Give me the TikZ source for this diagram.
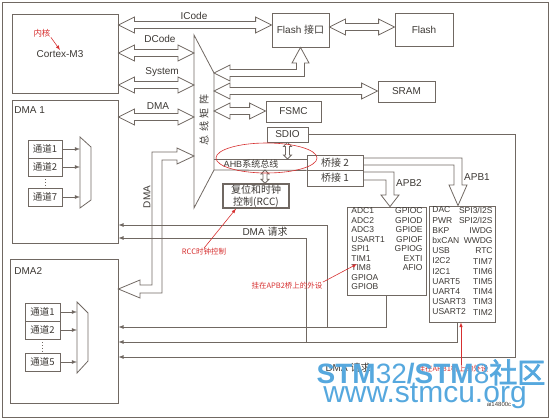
\documentclass[tikz,border=0pt]{standalone}
\usepackage{fontspec}
\setmainfont{Liberation Sans}
\newfontfamily\cjk{Noto Sans CJK SC}
\newfontfamily\cjkb[FakeBold=2.5]{Noto Sans CJK SC}
\usepackage{tikz}
\usetikzlibrary{arrows,calc}
\definecolor{linecol}{RGB}{112,104,98}
\definecolor{txtcol}{RGB}{60,56,52}
\definecolor{redcol}{RGB}{214,48,48}
\definecolor{wmcol}{RGB}{86,168,222}

% hollow double arrow, horizontal
\newcommand\hbus[2]{%
  \draw[bus] let \p1=(#1), \p2=(#2) in (\x1,\y1) -- ++(16pt,8pt) -- ++(0pt,-4.5pt)
    -- (\x2-16pt,\y1+3.5pt) -- ++(0pt,4.5pt) -- (\x2,\y1) -- ++(-16pt,-8pt) -- ++(0pt,4.5pt)
    -- (\x1+16pt,\y1-3.5pt) -- ++(0pt,-4.5pt) -- cycle;}
% small hollow double arrow, vertical (top point first)
\newcommand\vbus[2]{%
  \draw[bus] let \p1=(#1), \p2=(#2) in (\x1,\y1) -- ++(4pt,-4pt) -- ++(-2pt,0pt)
    -- (\x1+2pt,\y2+4pt) -- ++(2pt,0pt) -- (\x2,\y2) -- ++(-4pt,4pt) -- ++(2pt,0pt)
    -- (\x1-2pt,\y1-4pt) -- ++(-2pt,0pt) -- cycle;}

\begin{document}
\begin{tikzpicture}[x=1pt, y=-1pt, line width=.8pt,
    box/.style={draw=linecol, text=txtcol, inner sep=0pt, font=\fontsize{10}{12}\selectfont},
    chbox/.style={box, minimum width=34pt, minimum height=18pt, font=\cjk\fontsize{9.5}{11}\selectfont},
    lbl/.style={text=txtcol, inner sep=0pt, font=\fontsize{10}{12}\selectfont},
    list/.style={text=txtcol, inner sep=0pt, font=\fontsize{8.5}{9.5}\selectfont},
    note/.style={text=redcol, inner sep=0pt, font=\cjk\fontsize{7.5}{9}\selectfont},
    bus/.style={draw=linecol},
    req/.style={draw=linecol, -latex},
    redarr/.style={draw=redcol, line width=.6pt, -latex}]
\useasboundingbox (0,0) rectangle (552,420);
\draw[linecol] (2,2) rectangle (548,417);

% cpu and dma blocks
\node[box, minimum width=106pt, minimum height=79pt] (cortex) at (65,53.5) {};
\node[lbl] (cortexlbl) at (60,54) {Cortex-M3};
\node[note, font=\cjk\fontsize{8.5}{10}\selectfont] (innote) at (42,33) {内核};
\draw[redarr] (innote.south east) -- (cortexlbl.north);

\node[box, minimum width=106pt, minimum height=143pt] (dma1) at (65,171.5) {};
\node[lbl, anchor=west] at (14,110) {DMA 1};
\node[chbox] (ch11) at (45,149) {通道1};
\node[chbox] (ch12) at (45,167) {通道2};
\node[chbox] (ch17) at (45,197) {通道7};
\draw[linecol, dotted] (ch12.south) -- (ch17.north);
\draw[linecol] (80,137) -- (91,147) -- (91,200) -- (80,208) -- cycle;
\foreach \c in {ch11,ch12,ch17}
  \draw[req] (\c.east) -- (\c.east -| 80,0);

\node[box, minimum width=108pt, minimum height=144pt] (dma2) at (64,331) {};
\node[lbl, anchor=west] at (14,271) {DMA2};
\node[chbox, minimum width=35pt] (ch21) at (42.5,312) {通道1};
\node[chbox, minimum width=35pt] (ch22) at (42.5,330) {通道2};
\node[chbox, minimum width=35pt] (ch25) at (42.5,362) {通道5};
\draw[linecol, dotted] (ch22.south) -- (ch25.north);
\draw[linecol] (77,302) -- (88,313) -- (88,361) -- (77,373) -- cycle;
\foreach \c in {ch21,ch22,ch25}
  \draw[req] (\c.east) -- (\c.east -| 77,0);

% bus matrix
\coordinate (bm1) at (194,35);
\coordinate (bm2) at (214,73);
\coordinate (bm3) at (214,170);
\coordinate (bm4) at (194,208);
\draw[linecol] (bm1) -- (bm2) -- (bm3) -- (bm4) -- cycle;
\node[lbl, rotate=90, font=\cjk\fontsize{10}{12}\selectfont] at (204,120) {总\hspace{4pt}线\hspace{4pt}矩\hspace{4pt}阵};

% memories and peripherals
\node[box, minimum width=57pt, minimum height=34pt] (flashif) at (300.5,30) {Flash {\cjk 接口}};
\node[box, minimum width=58pt, minimum height=33pt] (flash) at (424,29.5) {Flash};
\node[box, minimum width=57pt, minimum height=21pt] (sram) at (406.5,91.5) {SRAM};
\node[box, minimum width=55pt, minimum height=21pt] (fsmc) at (293.5,111.5) {FSMC};
\node[box, minimum width=41pt, minimum height=15pt] (sdio) at (287.5,134.5) {SDIO};
\node[box, minimum width=56pt, minimum height=15pt, font=\cjk\fontsize{10}{12}\selectfont] (bridge2) at (335,162.5) {桥接 2};
\node[box, minimum width=56pt, minimum height=16pt, font=\cjk\fontsize{10}{12}\selectfont] (bridge1) at (335,178) {桥接 1};
\node[box, line width=1.4pt, minimum width=66pt, minimum height=24pt, align=center,
  font=\cjk\fontsize{10}{11.5}\selectfont] (rcc) at (256,196) {复位和时钟\\控制(RCC)};
\node[draw=linecol, inner sep=0pt, minimum width=79pt, minimum height=88pt] (apb2) at (386.5,251) {};
\node[draw=linecol, inner sep=0pt, minimum width=66pt, minimum height=116pt] (apb1) at (462,264) {};
\node[list, anchor=north west, align=left] at (351,207.5) {ADC1\\ADC2\\ADC3\\USART1\\SPI1\\TIM1\\TIM8\\GPIOA\\GPIOB};
\node[list, anchor=north east, align=right] at (423,207.5) {GPIOC\\GPIOD\\GPIOE\\GPIOF\\GPIOG\\EXTI\\AFIO};
\node[list, anchor=north west, align=left, font=\fontsize{8.5}{10.2}\selectfont] at (432,206.5) {DAC\\PWR\\BKP\\bxCAN\\USB\\I2C2\\I2C1\\UART5\\UART4\\USART3\\USART2};
\node[list, anchor=north east, align=right, font=\fontsize{8.5}{10.2}\selectfont] at (493,206.5) {SPI3/I2S\\SPI2/I2S\\IWDG\\WWDG\\RTC\\TIM7\\TIM6\\TIM5\\TIM4\\TIM3\\TIM2};

% buses
\hbus{cortex.east |- 0,25}{flashif.west |- 0,25}
\node[lbl] at (194,16) {ICode};
\hbus{cortex.east |- 0,53}{bm1 |- 0,53}
\node[lbl] at (160,39) {DCode};
\hbus{cortex.east |- 0,85}{bm1 |- 0,85}
\node[lbl] at (162,72) {System};
\hbus{dma1.east |- 0,117}{bm1 |- 0,117}
\node[lbl] at (158,106) {DMA};
\hbus{flashif.east |- 0,27}{flash.west |- 0,27}
\hbus{bm2 |- 0,91}{sram.west}
\hbus{bm2 |- 0,111}{fsmc.west}
\draw[bus] (bm2) -- (230,65) -- (230,69.5) -- (296.5,69.5) -- (296.5,63) -- (292,63)
  -- (flashif.south) -- (309,63) -- (304.5,63) -- (304.5,76.5) -- (230,76.5) -- (230,81) -- cycle;
\draw[bus] (dma2.east |- 0,289) -- (140,280) -- (140,285) -- (152,285) -- (152,152) -- (177,152)
  -- (177,148) -- (bm1 |- 0,156) -- (177,164) -- (177,160) -- (162,160) -- (162,293) -- (140,293)
  -- (140,298) -- cycle;
\node[lbl, rotate=90] at (147,197) {DMA};

% AHB and bridges
\draw[linecol] (bm3 |- 0,159) -- (bridge2.west |- 0,159);
\draw[linecol] (bm3) -- (bridge2.south west);
\node[lbl, font=\fontsize{9}{11}\selectfont] at (251,164.5) {AHB{\cjk 系统总线}};
\vbus{sdio.south}{sdio.south |- 0,159}
\vbus{265,170}{rcc.north -| 265,0}
\draw[bus] (bridge1.east |- 0,172) -- (394,172) -- (394,195) -- (399,195) -- (apb2.north -| 390,0)
  -- (381,195) -- (386,195) -- (386,180) -- (bridge1.east |- 0,180);
\node[lbl] at (409,183) {APB2};
\draw[bus] (bridge2.east |- 0,158) -- (462,158) -- (462,185) -- (467,185) -- (apb1.north -| 458,0)
  -- (449,185) -- (454,185) -- (454,165) -- (bridge2.east |- 0,165);
\node[lbl] at (477,177) {APB1};

% dma requests
\draw[req] (327,327) -- (327,225) -- (dma1.east |- 0,225);
\draw[req] (306,342) -- (306,238) -- (dma1.east |- 0,238);
\node[lbl] at (265,232) {DMA {\cjk 请求}};
\draw[req] (apb2.south) -- (apb2.south |- 0,327) -- (dma2.east |- 0,327);
\draw[req] (apb1.south -| 457,0) -- (457,342) -- (dma2.east |- 0,342);
\draw[req] (sdio.east) -- (sdio.east -| 515,0) -- (515,357) -- (dma2.east |- 0,357);
\node[lbl] at (348,368) {DMA {\cjk 请求}};

% red notes
\draw[redcol, line width=.6pt] (266.5,158) ellipse [x radius=50.5, y radius=15];
\node[note] (rccnote) at (204,252) {RCC时钟控制};
\draw[redarr] (rccnote.north) -- (rcc.south -| 236,0);
\node[note] (apb2note) at (287,286) {挂在APB2桥上的外设};
\draw[redarr] (apb2note.north east) -- (357,264);
\node[note] (apb1note) at (453,369) {挂在APB1桥上的外设};
\draw[redarr] (apb1note.north -| 461,0) -- (apb1.south -| 461,0);

% watermark
\node[anchor=base, text=wmcol, inner sep=0pt, font=\fontsize{28}{30}\selectfont] at (431,383)
  {\textbf{STM}32\textbf{/STM}8{\cjkb 社区}};
\node[anchor=base, text=wmcol, inner sep=0pt, font=\fontsize{30}{32}\selectfont] at (425,402) {www.stmcu.org};
\node[anchor=base, text=txtcol, inner sep=0pt, font=\fontsize{6}{7}\selectfont] at (499,406) {ai14800c};
\end{tikzpicture}
\end{document}
